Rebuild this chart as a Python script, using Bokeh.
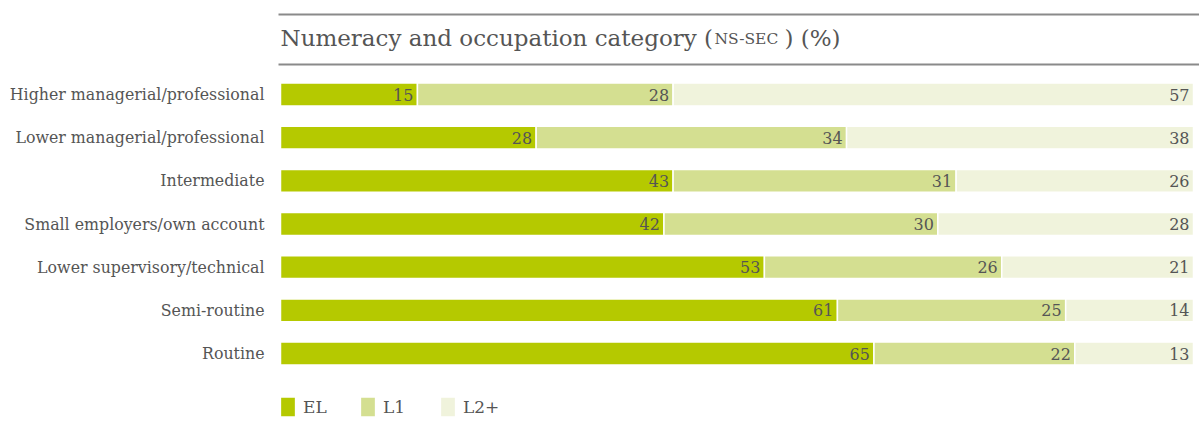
from bokeh.plotting import figure
from bokeh.models import Range1d, FixedTicker, Legend, LegendItem
from bokeh.core.properties import value
from bokeh.embed import file_html
from bokeh.resources import INLINE

categories = ["Higher managerial/professional", "Lower managerial/professional",
              "Intermediate", "Small employers/own account",
              "Lower supervisory/technical", "Semi-routine", "Routine"]
el = [15, 28, 43, 42, 53, 61, 65]
l1 = [28, 34, 31, 30, 26, 25, 22]
l2 = [57, 38, 26, 28, 21, 14, 13]
series_names = ["EL", "L1", "L2+"]
colors = ["#b5c900", "#d4df91", "#f0f3dc"]
title_parts = ["Numeracy and occupation category (", "NS-SEC", ") (%)"]

TXT = "#555555"
FONT = "DejaVu Serif"

W, H = 1199, 422
FL = 276            # frame left (figure px)
X0 = 280            # figure px of value 0
PXU = 9.13          # px per percent
ROW0 = 94           # figure px of first row centre
ROWH = 43.17        # px per row

def row_of(fig_y):
    return (fig_y - ROW0) / ROWH

def x_of(fig_x):
    return (fig_x - X0) / PXU

p = figure(width=W, height=H, output_backend="svg", toolbar_location=None,
           x_range=Range1d(x_of(FL), x_of(W)),
           y_range=Range1d(row_of(H), row_of(0)),
           x_axis_location=None, min_border_left=FL, min_border_right=0,
           min_border_top=0, min_border_bottom=0)
p.outline_line_color = None
p.grid.visible = False
p.background_fill_color = "white"

yax = p.yaxis[0]
yax.ticker = FixedTicker(ticks=list(range(len(categories))))
yax.major_label_overrides = {i: c for i, c in enumerate(categories)}
yax.axis_line_color = None
yax.major_tick_line_color = None
yax.minor_tick_line_color = None
yax.major_label_standoff = 6
yax.major_label_text_font = FONT
yax.major_label_text_font_size = "15.8px"
yax.major_label_text_color = TXT

idx = list(range(len(categories)))
series = [el, l1, l2]
left = [0] * len(categories)
renderers = []
for vals, col in zip(series, colors):
    right = [a + b for a, b in zip(left, vals)]
    r = p.hbar(y=idx, left=left, right=right, height=0.53, fill_color=col,
               line_color="white", line_width=1.5)
    renderers.append(r)
    p.text(x=right, y=idx, text=[str(v) for v in vals], x_offset=-4,
           text_align="right", text_baseline="middle",
           text_font=value(FONT), text_font_size="16px", text_color=TXT)
    left = right

# title rules
for fy in (14, 64):
    p.segment(x0=[x_of(278)], x1=[x_of(W)], y0=[row_of(fy)], y1=[row_of(fy)],
              line_color="#8a8a8a", line_width=2)

# title
ty = row_of(37)
p.text(x=[0], y=[ty], text=[title_parts[0]], text_baseline="middle",
       text_font=value(FONT), text_font_size="23px", text_color=TXT)
p.text(x=[x_of(714)], y=[ty + 0.03], text=[title_parts[1]], text_baseline="middle",
       text_font=value(FONT), text_font_size="15.5px", text_color=TXT)
p.text(x=[x_of(784)], y=[ty], text=[title_parts[2]], text_baseline="middle",
       text_font=value(FONT), text_font_size="23px", text_color=TXT)

legend = Legend(items=[LegendItem(label=n, renderers=[r]) for n, r in zip(series_names, renderers)],
                orientation="horizontal", location=(2, 3), glyph_width=19, glyph_height=25,
                label_width=55, spacing=0, padding=0, margin=0, label_standoff=6,
                border_line_color=None, background_fill_alpha=0,
                label_text_font=FONT, label_text_font_size="17px", label_text_color=TXT)
p.add_layout(legend, "center")

open("out.html", "w").write(file_html(p, INLINE))
